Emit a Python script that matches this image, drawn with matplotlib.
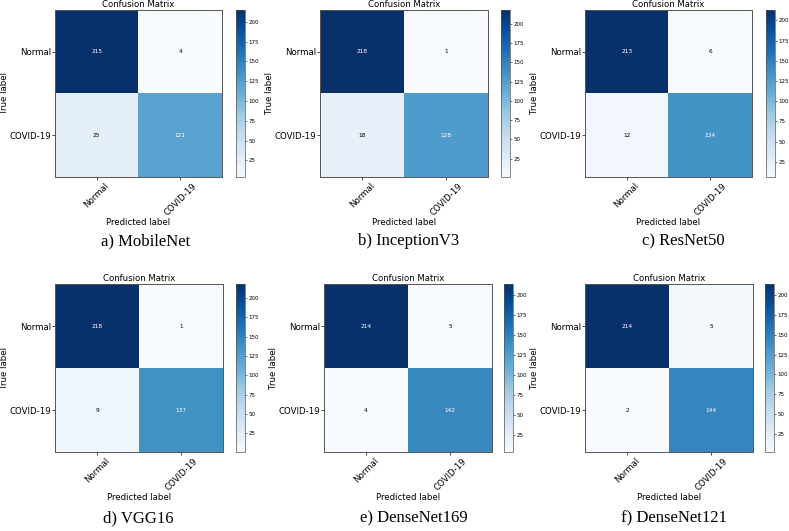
import numpy as np
import matplotlib
matplotlib.use('Agg')
import matplotlib.pyplot as plt

classes = ['Normal', 'COVID-19']
models = ['a) MobileNet', 'b) InceptionV3', 'c) ResNet50',
          'd) VGG16', 'e) DenseNet169', 'f) DenseNet121']
mobilenet = [[215, 4], [25, 121]]
inception = [[218, 1], [18, 128]]
resnet = [[213, 6], [12, 134]]
vgg16 = [[218, 1], [9, 137]]
densenet169 = [[214, 5], [4, 142]]
densenet121 = [[214, 5], [2, 144]]
matrices = [mobilenet, inception, resnet, vgg16, densenet169, densenet121]
cbar_ticks = [25, 50, 75, 100, 125, 150, 175, 200]

W, H = 789, 531
fig = plt.figure(figsize=(W / 100, H / 100), dpi=100)

# pixel boxes (left, top, right, bottom) for matrix axes and colorbar
boxes = [(55, 10, 222, 177, 236, 245), (320, 10, 488, 177, 501, 510), (585, 10, 752, 177, 766, 775),
         (55, 284, 223, 452, 236, 245), (324, 284, 492, 452, 504, 513), (585, 284, 753, 452, 765, 774)]
cap_pos = [(146, 241), (409, 241), (683, 241), (138, 518), (414, 518), (674, 518)]

def rect(l, t, r, b):
    return [l / W, 1 - b / H, (r - l) / W, (b - t) / H]

for i, cm in enumerate(matrices):
    cm = np.array(cm)
    l, t, r, b, cl, cr = boxes[i]
    ax = fig.add_axes(rect(l, t, r, b))
    cax = fig.add_axes(rect(cl, t, cr, b))
    im = ax.imshow(cm, interpolation='nearest', cmap=plt.cm.Blues, aspect='auto')
    ax.set_title('Confusion Matrix', fontsize=6.1, pad=2)
    cb = fig.colorbar(im, cax=cax, ticks=cbar_ticks)
    cb.ax.tick_params(labelsize=4, length=1.5, width=0.4, pad=1)
    cb.outline.set_linewidth(0.5)
    cb.outline.set_edgecolor('#555555')
    ax.set_xticks(np.arange(len(classes)))
    ax.set_yticks(np.arange(len(classes)))
    ax.set_xticklabels(classes, rotation=45, fontsize=6.2)
    ax.set_yticklabels(classes, fontsize=6.2)
    ax.tick_params(length=2, width=0.5, pad=1)
    for s in ax.spines.values():
        s.set_linewidth(0.7)
        s.set_edgecolor('#555555')
    thresh = cm.max() / 2.
    for y in range(cm.shape[0]):
        for x in range(cm.shape[1]):
            ax.text(x, y, str(cm[y, x]), ha='center', va='center', fontsize=4.2,
                    color='white' if cm[y, x] > thresh else 'black')
    ax.set_ylabel('True label', fontsize=6.2, labelpad=0)
    ax.set_xlabel('Predicted label', fontsize=6.2, labelpad=1)
    cx, cy = cap_pos[i]
    fig.text(cx / W, 1 - cy / H, models[i], ha='center', va='center',
             fontsize=12, family='Liberation Serif')

fig.savefig('out.png', dpi=100)
